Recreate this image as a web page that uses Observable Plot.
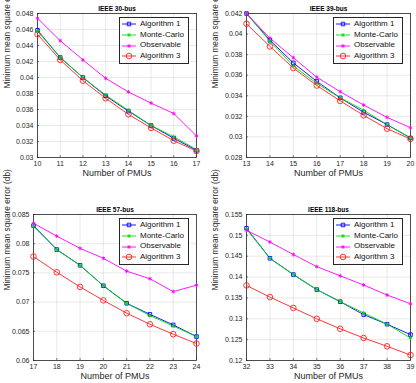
<!DOCTYPE html>
<html>
<head>
<meta charset="utf-8">
<script src="https://cdn.jsdelivr.net/npm/d3@7"></script>
<script src="https://cdn.jsdelivr.net/npm/@observablehq/plot@0.6"></script>
<style>
  html, body { margin: 0; padding: 0; background: #fff; }
  #root { position: relative; width: 416px; height: 383px; overflow: hidden; font-family: "Liberation Sans", Arial, sans-serif; }
  .panel { position: absolute; }
  .legend { position: absolute; background: #fff; border: 1px solid #262626; padding: 1px 4px 1px 1px; font-size: 8px; color: #111; line-height: 10.7px; }
  .legend .row { display: flex; align-items: center; height: 10.7px; white-space: nowrap; }
  .legend svg { margin-right: 3px; flex: none; }
</style>
</head>
<body>
<div id="root"></div>
<script>
// ---------- data ----------
const seriesNames = ["Algorithm 1", "Monte-Carlo", "Observable", "Algorithm 3"];
const seriesColors = ["#0000ff", "#00e000", "#ff00ff", "#ff2020"];

// IEEE 30-bus
const pmu30 = [10, 11, 12, 13, 14, 15, 16, 17];
const alg1_30 = [0.0459, 0.0425, 0.0400, 0.0377, 0.0358, 0.0340, 0.0324, 0.0309];
const mc_30   = [0.0458, 0.0425, 0.0400, 0.0378, 0.0359, 0.0340, 0.0326, 0.0310];
const obs_30  = [0.0474, 0.0446, 0.0422, 0.0399, 0.0382, 0.0368, 0.0355, 0.0327];
const alg3_30 = [0.0454, 0.0422, 0.0396, 0.0374, 0.0354, 0.0337, 0.0321, 0.0308];
const yTicks30 = [0.03, 0.032, 0.034, 0.036, 0.038, 0.04, 0.042, 0.044, 0.046, 0.048];

// IEEE 39-bus
const pmu39 = [13, 14, 15, 16, 17, 18, 19, 20];
const alg1_39 = [0.0420, 0.0394, 0.0372, 0.0354, 0.0338, 0.0324, 0.0312, 0.0299];
const mc_39   = [0.0420, 0.0393, 0.0369, 0.0352, 0.0338, 0.0326, 0.0312, 0.0299];
const obs_39  = [0.0420, 0.0396, 0.0377, 0.0358, 0.0344, 0.0331, 0.0319, 0.0309];
const alg3_39 = [0.0410, 0.0388, 0.0367, 0.0350, 0.0335, 0.0321, 0.0308, 0.0298];
const yTicks39 = [0.028, 0.03, 0.032, 0.034, 0.036, 0.038, 0.04, 0.042];

// IEEE 57-bus
const pmu57 = [17, 18, 19, 20, 21, 22, 23, 24];
const alg1_57 = [0.0831, 0.0790, 0.0763, 0.0728, 0.0698, 0.0679, 0.0661, 0.0641];
const mc_57   = [0.0830, 0.0790, 0.0763, 0.0728, 0.0698, 0.0677, 0.0659, 0.0641];
const obs_57  = [0.0835, 0.0813, 0.0792, 0.0775, 0.0753, 0.0740, 0.0718, 0.0729];
const alg3_57 = [0.0778, 0.0751, 0.0726, 0.0703, 0.0681, 0.0662, 0.0645, 0.0629];
const yTicks57 = [0.06, 0.065, 0.07, 0.075, 0.08, 0.085];

// IEEE 118-bus
const pmu118 = [32, 33, 34, 35, 36, 37, 38, 39];
const alg1_118 = [0.1517, 0.1445, 0.1406, 0.1370, 0.1341, 0.1310, 0.1287, 0.1262];
const mc_118   = [0.1515, 0.1445, 0.1406, 0.1370, 0.1341, 0.1314, 0.1287, 0.1254];
const obs_118  = [0.1512, 0.1484, 0.1454, 0.1425, 0.1403, 0.1381, 0.1357, 0.1336];
const alg3_118 = [0.1380, 0.1352, 0.1326, 0.1300, 0.1276, 0.1254, 0.1234, 0.1213];
const yTicks118 = [0.12, 0.125, 0.13, 0.135, 0.14, 0.145, 0.15, 0.155];

const titles = ["IEEE 30-bus", "IEEE 39-bus", "IEEE 57-bus", "IEEE 118-bus"];
const xLabel = "Number of PMUs";
const yLabel = "Minimum mean square error (db)";

// ---------- layout ----------
const panels = [
  {title: titles[0], x: pmu30, ys: [alg1_30, mc_30, obs_30, alg3_30], yTicks: yTicks30,
   left: 0, top: 0, w: 208, h: 190, ml: 37, mr: 12, mt: 13, mb: 33},
  {title: titles[1], x: pmu39, ys: [alg1_39, mc_39, obs_39, alg3_39], yTicks: yTicks39,
   left: 208, top: 0, w: 208, h: 190, ml: 38, mr: 6, mt: 13, mb: 33},
  {title: titles[2], x: pmu57, ys: [alg1_57, mc_57, obs_57, alg3_57], yTicks: yTicks57,
   left: 0, top: 190, w: 208, h: 193, ml: 33, mr: 12, mt: 24, mb: 23},
  {title: titles[3], x: pmu118, ys: [alg1_118, mc_118, obs_118, alg3_118], yTicks: yTicks118,
   left: 208, top: 190, w: 208, h: 193, ml: 38, mr: 6, mt: 24, mb: 23}
];

const symbolRange = ["square", "asterisk", "asterisk", "circle"];
const rBySeries = {"Algorithm 1": 2.0, "Monte-Carlo": 1.8, "Observable": 1.8, "Algorithm 3": 2.8};
const fmt = d => String(+d.toFixed(4));
const ink = "#262626";

const root = document.getElementById("root");

panels.forEach(p => {
  const data = [];
  seriesNames.forEach((s, i) => p.x.forEach((x, j) => data.push({series: s, x, y: p.ys[i][j]})));
  const yDomain = [p.yTicks[0], p.yTicks[p.yTicks.length - 1]];
  const dotMarks = seriesNames.map((s, i) => Plot.dot(data.filter(d => d.series === s), {
    x: "x", y: "y", stroke: "series", symbol: "series", r: rBySeries[s], strokeWidth: 0.9,
    fill: s === "Observable" ? seriesColors[i] : "none"
  }));
  const plot = Plot.plot({
    width: p.w, height: p.h,
    marginLeft: p.ml, marginRight: p.mr, marginTop: p.mt, marginBottom: p.mb,
    style: {fontFamily: "'Liberation Sans', Arial, sans-serif", fontSize: "7px", color: ink, background: "white", overflow: "visible"},
    x: {domain: [p.x[0], p.x[p.x.length - 1]], label: null},
    y: {domain: yDomain, label: null},
    color: {domain: seriesNames, range: seriesColors},
    symbol: {domain: seriesNames, range: symbolRange},
    marks: [
      Plot.gridX(p.x, {stroke: ink, strokeOpacity: 0.13, strokeWidth: 0.8}),
      Plot.gridY(p.yTicks, {stroke: ink, strokeOpacity: 0.13, strokeWidth: 0.8}),
      Plot.axisX(p.x, {anchor: "bottom", tickSize: 0, tickPadding: 4, tickFormat: d => String(d), fill: ink}),
      Plot.axisY(p.yTicks, {anchor: "left", tickSize: 0, tickPadding: 4, tickFormat: fmt, fill: ink}),
      Plot.axisX(p.x, {anchor: "bottom", tickSize: -2, text: null, stroke: ink, strokeWidth: 0.6}),
      Plot.axisY(p.yTicks, {anchor: "left", tickSize: -2, text: null, stroke: ink, strokeWidth: 0.6}),
      Plot.frame({stroke: ink, strokeWidth: 0.8}),
      Plot.line(data, {x: "x", y: "y", z: "series", stroke: "series", strokeWidth: 0.9}),
      ...dotMarks,
      Plot.text([p.title], {frameAnchor: "top", dy: -7, fontWeight: "bold", fontSize: 6.5, fill: "#000"}),
      Plot.text([xLabel], {frameAnchor: "bottom", dy: 18, fontSize: 9, fill: ink}),
      Plot.text([yLabel], {frameAnchor: "left", dx: -(p.ml - 7), dy: 3, rotate: -90, fontSize: 8.3, fill: ink})
    ]
  });
  const wrap = document.createElement("div");
  wrap.className = "panel";
  wrap.style.left = p.left + "px";
  wrap.style.top = p.top + "px";
  wrap.appendChild(plot);

  // legend (HTML overlay inside the axes, top-right)
  const lg = document.createElement("div");
  lg.className = "legend";
  lg.style.right = (p.mr + 7) + "px";
  lg.style.top = (p.mt + 4) + "px";
  const symMap = {"square": d3.symbolSquare, "asterisk": d3.symbolAsterisk, "circle": d3.symbolCircle};
  seriesNames.forEach((s, i) => {
    const row = document.createElement("div");
    row.className = "row";
    const r = rBySeries[s];
    const path = d3.symbol(symMap[symbolRange[i]], Math.PI * r * r)();
    const fill = s === "Observable" ? seriesColors[i] : "none";
    row.innerHTML = `<svg width="16" height="8" viewBox="0 0 16 8"><line x1="1" x2="15" y1="4" y2="4" stroke="${seriesColors[i]}" stroke-width="0.9"/><path d="${path}" transform="translate(8,4)" stroke="${seriesColors[i]}" stroke-width="0.9" fill="${fill}"/></svg><span>${s}</span>`;
    lg.appendChild(row);
  });
  wrap.appendChild(lg);
  root.appendChild(wrap);
});
</script>
</body>
</html>
